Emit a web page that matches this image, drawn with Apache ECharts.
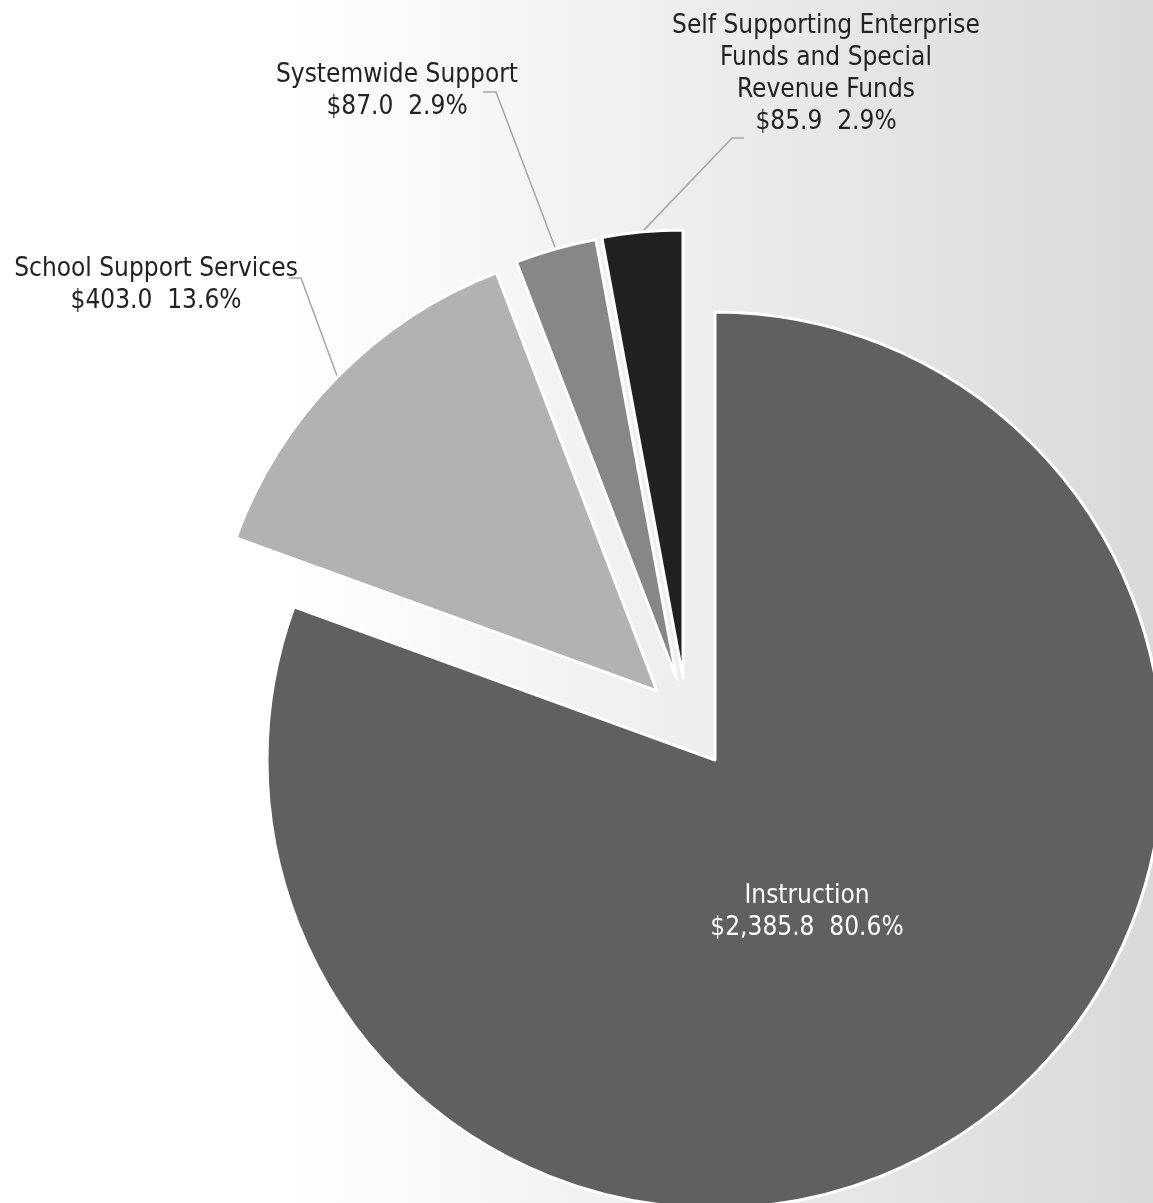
<!DOCTYPE html>
<html>
<head>
<meta charset="utf-8">
<script src="https://cdn.jsdelivr.net/npm/echarts@6/dist/echarts.min.js"></script>
<style>
  html, body { margin: 0; padding: 0; }
  #pie-chart { width: 1153px; height: 1203px; }
</style>
</head>
<body>
<div id="pie-chart"></div>
<script>
var categories = ['Instruction', 'School Support Services', 'Systemwide Support', 'Self Supporting Enterprise Funds and Special Revenue Funds'];
var labelNames = ['Instruction', 'School Support Services', 'Systemwide Support', 'Self Supporting Enterprise\nFunds and Special\nRevenue Funds'];
var amounts = [2385.8, 403.0, 87.0, 85.9];
var percents = [80.6, 13.6, 2.9, 2.9];

// look of each slice (exploded pie: each slice has its own tip)
var sliceColors = ['#606060', '#b2b2b2', '#878787', '#212121'];
var sliceTips = [[715, 760], [657, 691], [677, 680], [683, 678]];
var labelSpots = [[807, 912], [156, 285], [397, 91], [826, 74]];
var lineBends = [null, [[301, 278], [289, 278]], [[496, 92], [483, 92]], [[732, 138], [744, 138]]];

var pieChart = echarts.init(document.getElementById('pie-chart'));

function money(v) {
    var parts = v.toFixed(1).split('.');
    parts[0] = parts[0].replace(/\B(?=(\d{3})+(?!\d))/g, ',');
    return '$' + parts.join('.');
}

var series = categories.map(function (cat, i) {
    var data = categories.map(function (name, j) {
        var own = i === j;
        return {
            name: name,
            value: amounts[j],
            itemStyle: own
                ? { color: sliceColors[j], borderColor: '#ffffff', borderWidth: 3 }
                : { color: 'rgba(0,0,0,0)', borderWidth: 0 },
            label: { show: own },
            labelLine: { show: own && i !== 0 }
        };
    });
    return {
        type: 'pie',
        silent: true,
        startAngle: 90,
        center: sliceTips[i],
        radius: 448,
        avoidLabelOverlap: false,
        data: data,
        label: {
            position: i === 0 ? 'inside' : 'outside',
            formatter: function () {
                return labelNames[i] + '\n' + money(amounts[i]) + '  ' + percents[i].toFixed(1) + '%';
            },
            color: i === 0 ? '#ffffff' : '#222222',
            fontFamily: '"DejaVu Sans Condensed", "DejaVu Sans", sans-serif',
            fontSize: 26,
            lineHeight: 32,
            align: 'center'
        },
        labelLine: {
            lineStyle: { color: '#a6a6a6', width: 1.5 }
        },
        labelLayout: function (params) {
            if (params.dataIndex !== i) return {};
            var out = {
                x: labelSpots[i][0],
                y: labelSpots[i][1],
                align: 'center',
                verticalAlign: 'middle'
            };
            if (lineBends[i] && params.labelLinePoints) {
                out.labelLinePoints = [params.labelLinePoints[0]].concat(lineBends[i]);
            }
            return out;
        }
    };
});

var option = {
    backgroundColor: {
        type: 'linear', x: 0, y: 0, x2: 1, y2: 0,
        colorStops: [
            { offset: 0, color: '#ffffff' },
            { offset: 0.25, color: '#ffffff' },
            { offset: 1, color: '#d9d9d9' }
        ]
    },
    animation: false,
    series: series
};

pieChart.setOption(option);
</script>
</body>
</html>
